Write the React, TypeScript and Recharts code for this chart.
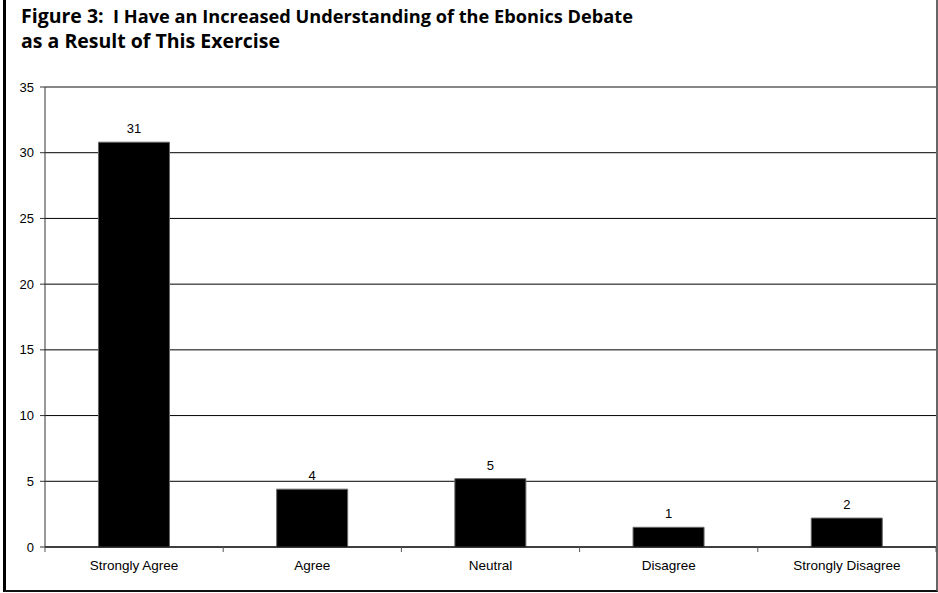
import { BarChart, Bar, XAxis, YAxis, CartesianGrid, LabelList, ReferenceLine } from "recharts";

const categories = ["Strongly Agree", "Agree", "Neutral", "Disagree", "Strongly Disagree"];
// printed counts above each bar
const counts = [31, 4, 5, 1, 2];
// bar heights as drawn in the figure (slightly off from the printed counts)
const heights = [30.8, 4.4, 5.2, 1.5, 2.2];
const yTicks = [0, 5, 10, 15, 20, 25, 30, 35];

const data = categories.map((name, i) => ({ name, height: heights[i], count: counts[i] }));

const W = 938;
const H = 593;
const PLOT_LEFT = 45;
const PLOT_RIGHT = 936;
const BAND = (PLOT_RIGHT - PLOT_LEFT) / categories.length;
const FONT = "'Liberation Sans', Arial, sans-serif";

// category label plus tick marks on the band edges (Excel-style)
function CategoryTick(props: any) {
  const { x, y, payload, index } = props;
  const half = payload?.offset || BAND / 2;
  return (
    <g>
      {index === 0 && <line x1={x - half} y1={y - 8} x2={x - half} y2={y - 3} stroke="#555" />}
      <line x1={x + half} y1={y - 8} x2={x + half} y2={y - 3} stroke="#555" />
      <text x={x} y={y + 15} textAnchor="middle" fontSize={13.5} fill="#000" fontFamily={FONT}>
        {payload.value}
      </text>
    </g>
  );
}

export default function App() {
  return (
    <div style={{ position: "fixed", left: 0, top: 0, width: W, height: H, background: "#fff" }}>
      <div
        style={{
          position: "absolute",
          left: 3,
          top: 0,
          width: 935,
          height: 592,
          borderLeft: "3px solid #000",
          borderBottom: "2px solid #111",
          borderRight: "2px solid #666",
          boxSizing: "border-box",
        }}
      />
      <div
        style={{
          position: "absolute",
          left: 21,
          top: 4,
          fontFamily: "'Open Sans', Lato, sans-serif",
          fontWeight: 700,
          color: "#000",
          whiteSpace: "nowrap",
        }}
      >
        <div style={{ fontSize: 18.2, lineHeight: "24px" }}>
          <span style={{ fontSize: 19.5 }}>Figure 3:</span>&nbsp; I Have an Increased Understanding of the Ebonics Debate
        </div>
        <div style={{ fontSize: 19.5, lineHeight: "25px" }}>as a Result of This Exercise</div>
      </div>
      <div style={{ position: "absolute", left: 0, top: 0 }}>
        <BarChart width={W} height={H} data={data} margin={{ top: 87, right: W - PLOT_RIGHT, bottom: 16, left: 0 }} barCategoryGap="30%">
          <CartesianGrid vertical={false} stroke="#000" strokeWidth={1} />
          <ReferenceLine y={35} stroke="#888" strokeWidth={1.5} />
          <XAxis
            dataKey="name"
            height={30}
            axisLine={{ stroke: "#000" }}
            tickLine={false}
            tick={<CategoryTick />}
            interval={0}
          />
          <YAxis
            width={PLOT_LEFT}
            domain={[0, 35]}
            ticks={yTicks}
            interval={0}
            axisLine={{ stroke: "#333" }}
            tickLine={{ stroke: "#333" }}
            tickSize={5}
            tickMargin={6}
            tick={{ fontSize: 13, fill: "#000", fontFamily: FONT }}
          />
          <Bar dataKey="height" fill="#000" stroke="#666" strokeWidth={1} isAnimationActive={false}>
            <LabelList dataKey="count" position="top" offset={9} fontSize={13} fill="#000" fontFamily={FONT} />
          </Bar>
        </BarChart>
      </div>
    </div>
  );
}
